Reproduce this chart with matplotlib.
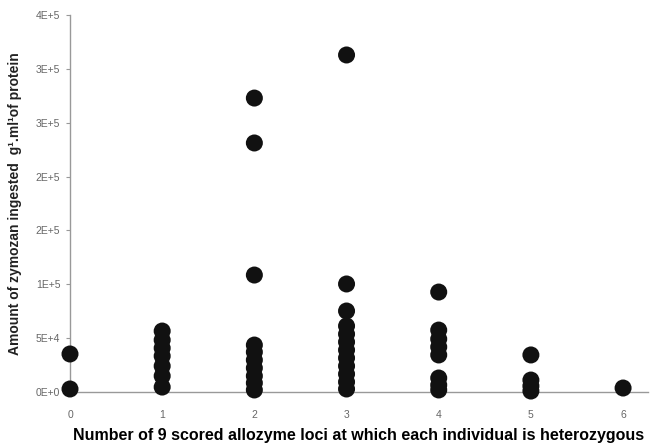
import matplotlib
matplotlib.use("Agg")
import matplotlib.pyplot as plt
import numpy as np

plt.rcParams['font.family'] = ['Liberation Sans', 'DejaVu Sans']

# number of heterozygous loci (x) for each individual
het_loci = [0, 0,
            1, 1, 1, 1, 1, 1, 1,
            2, 2, 2, 2, 2, 2, 2, 2, 2, 2,
            3, 3, 3, 3, 3, 3, 3, 3, 3, 3, 3, 3,
            4, 4, 4, 4, 4, 4, 4, 4,
            5, 5, 5, 5,
            6]

# zymozan ingested
zymozan = [35300, 2800,
           56600, 48300, 40800, 33400, 24100, 14900, 4600,
           272900, 231200, 108600, 43600, 37100, 29700, 22300, 14900, 8400, 1900,
           312900, 100300, 75200, 61300, 53800, 46400, 39000, 31600, 24100, 16700, 9300, 2800,
           92800, 57500, 49200, 41800, 34400, 13000, 6500, 1900,
           34400, 11100, 5600, 900,
           3700]

y_ticks = [0, 50000, 100000, 150000, 200000, 250000, 300000, 350000]
y_tick_labels = ["0E+0", "5E+4", "1E+5", "2E+5", "2E+5", "3E+5", "3E+5", "4E+5"]
x_ticks = [0, 1, 2, 3, 4, 5, 6]

fig = plt.figure(figsize=(6.53, 4.43), dpi=100)
ax = fig.add_axes([0.1072, 0.1151, 0.8851, 0.851])

ax.scatter(het_loci, zymozan, s=150, color='#111111', edgecolors='none',
           zorder=3, clip_on=False)

ax.set_xlim(0, 6.27)
ax.set_ylim(0, 350000)

ax.set_yticks(y_ticks)
ax.set_yticklabels(y_tick_labels)
ax.set_xticks(x_ticks)
ax.set_xticklabels([str(v) for v in x_ticks])

# Excel-like axes
ax.spines["top"].set_visible(False)
ax.spines["right"].set_visible(False)
for side in ["left", "bottom"]:
    ax.spines[side].set_color('#999999')
    ax.spines[side].set_linewidth(1.0)

ax.tick_params(axis='y', direction='out', length=3, color='#999999',
               labelsize=7.5, labelcolor='#666666', pad=4)
ax.tick_params(axis='x', length=0, labelsize=7.5, labelcolor='#666666', pad=13)

ax.set_xlabel('Number of 9 scored allozyme loci at which each individual is heterozygous',
              fontsize=11.5, fontweight='bold', labelpad=6)
ax.set_ylabel('Amount of zymozan ingested  g\u00b9.ml\u00b9of protein',
              fontsize=10, fontweight='bold', color='#222222', labelpad=10)

fig.savefig('out.png', dpi=100)
